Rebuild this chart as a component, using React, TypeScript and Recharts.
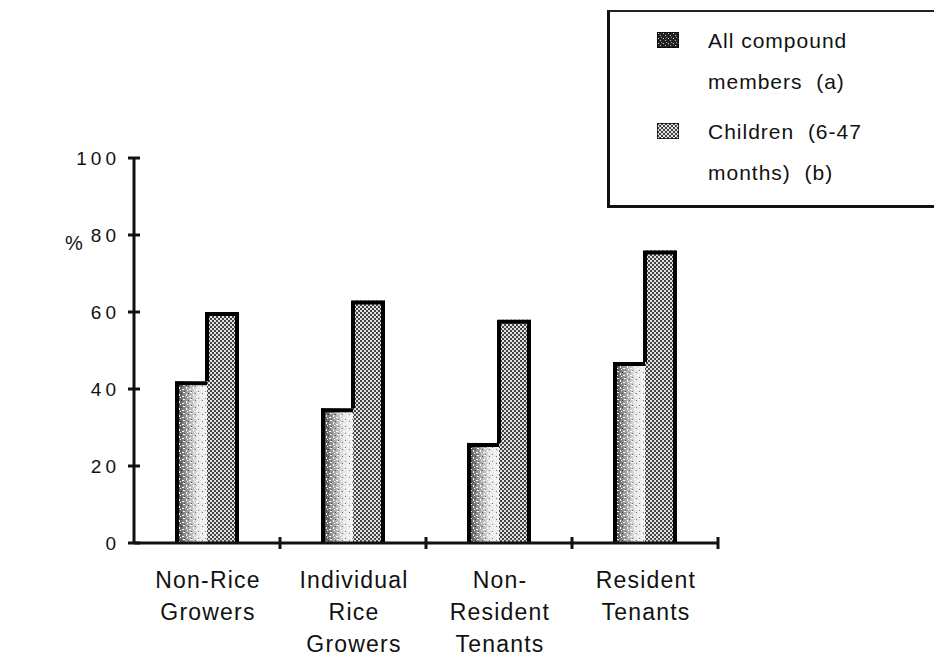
import React from "react";
import { BarChart, Bar, XAxis, YAxis, Legend, Label } from "recharts";

// category labels, one entry per line of the tick text
const categoryLines = [
  ["Non-Rice", "Growers"],
  ["Individual", "Rice", "Growers"],
  ["Non-", "Resident", "Tenants"],
  ["Resident", "Tenants"],
];

// % of each group
const allMembers = [42, 35, 26, 47];
const children = [60, 63, 58, 76];

const yTicks = [0, 20, 40, 60, 80, 100];

const legendItems = [
  { key: "a", lines: ["All compound", "members  (a)"], fill: "url(#swatchA)" },
  { key: "b", lines: ["Children  (6-47", "months)  (b)"], fill: "url(#checker)" },
];

const data = categoryLines.map((lines, i) => ({
  name: lines.join("\n"),
  a: allMembers[i],
  b: children[i],
}));

const W = 934;
const H = 656;
const margin = { top: 158, right: 216, left: 74, bottom: 13 };
const yAxisWidth = 60;
const halfBand = (W - margin.left - margin.right - yAxisWidth) / categoryLines.length / 2;

const FONT = "'Liberation Sans', Arial, Helvetica, sans-serif";
const INK = "#111";

function YTick(props: any) {
  const { x, y, payload } = props;
  return (
    <g>
      <line x1={x - 6} x2={x + 6} y1={y} y2={y} stroke={INK} strokeWidth={3} />
      <text
        x={x - 14}
        y={y}
        dy={7}
        textAnchor="end"
        fontFamily={FONT}
        fontSize={19}
        letterSpacing={4}
        fill={INK}
      >
        {payload.value}
      </text>
    </g>
  );
}

function XTick(props: any) {
  const { x, y, payload } = props;
  const lines = String(payload.value).split("\n");
  return (
    <g>
      <line x1={x + halfBand} x2={x + halfBand} y1={y - 6} y2={y + 6} stroke={INK} strokeWidth={3} />
      {lines.map((line, i) => (
        <text
          key={i}
          x={x + 1}
          y={y + 45 + i * 32}
          textAnchor="middle"
          fontFamily={FONT}
          fontSize={23}
          letterSpacing={1.2}
          fill={INK}
        >
          {line}
        </text>
      ))}
    </g>
  );
}

function BarAShape(props: any) {
  const { x, y, width, height } = props;
  if (!height) return null;
  return (
    <g>
      <rect x={x} y={y} width={width} height={height} fill="url(#fadeA)" />
      <rect x={x} y={y} width={width} height={height} fill="url(#speckle)" />
      <path
        d={`M${x + 2},${y + height} V${y + 2} H${x + width}`}
        fill="none"
        stroke="#000"
        strokeWidth={4}
      />
    </g>
  );
}

function BarBShape(props: any) {
  const { x, y, width, height, payload } = props;
  if (!height) return null;
  // top of the neighbouring "a" bar, from the same scale
  const aTop = y + height - (height * payload.a) / payload.b;
  return (
    <g>
      <rect x={x} y={y} width={width} height={height} fill="url(#checker)" />
      <path
        d={`M${x},${aTop} V${y + 2} H${x + width - 2} V${y + height}`}
        fill="none"
        stroke="#000"
        strokeWidth={4}
      />
    </g>
  );
}

function LegendBox() {
  return (
    <div
      style={{
        width: 327,
        height: 198,
        borderLeft: "3px solid #111",
        borderTop: "2px solid #222",
        borderBottom: "3px solid #111",
        borderRight: "0 none",
        boxSizing: "border-box",
        fontFamily: FONT,
        fontSize: 21,
        letterSpacing: 1,
        color: INK,
        background: "#fff",
        position: "relative",
      }}
    >
      {legendItems.map((item, i) => (
        <div
          key={item.key}
          style={{ position: "absolute", left: 47, top: 8 + i * 91, display: "flex" }}
        >
          <svg width={22} height={16} style={{ marginTop: 12, marginRight: 29, flexShrink: 0 }}>
            <rect x={0} y={0} width={22} height={16} fill={item.fill} stroke="#000" strokeWidth={1.5} />
          </svg>
          <div style={{ lineHeight: "41px", whiteSpace: "pre" }}>
            {item.lines.map((l) => (
              <div key={l}>{l}</div>
            ))}
          </div>
        </div>
      ))}
    </div>
  );
}

export default function App() {
  return (
    <div
      style={{
        position: "absolute",
        left: 0,
        top: 0,
        width: W,
        height: H,
        background: "#fff",
      }}
    >
      <BarChart width={W} height={H} data={data} margin={margin} barSize={32} barGap={0}>
        <defs>
          <linearGradient id="fadeA" x1="0" x2="1" y1="0" y2="0">
            <stop offset="0" stopColor="#2e2e2e" />
            <stop offset="0.3" stopColor="#8a8a8a" />
            <stop offset="0.7" stopColor="#e6e6e6" />
            <stop offset="1" stopColor="#f4f4f4" />
          </linearGradient>
          <pattern id="speckle" width="7" height="7" patternUnits="userSpaceOnUse">
            <rect x="1" y="0" width="2" height="1" fill="#fff" />
            <rect x="4" y="2" width="1" height="2" fill="#fff" />
            <rect x="0" y="4" width="2" height="1" fill="#fff" />
            <rect x="5" y="5" width="1" height="1" fill="#fff" />
            <rect x="2" y="6" width="1" height="1" fill="#000" opacity="0.5" />
            <rect x="6" y="1" width="1" height="1" fill="#000" opacity="0.5" />
          </pattern>
          <pattern id="checker" width="4" height="4" patternUnits="userSpaceOnUse">
            <rect width="4" height="4" fill="#e2e2e2" />
            <rect width="2" height="2" fill="#444" />
            <rect x="2" y="2" width="2" height="2" fill="#444" />
          </pattern>
          <pattern id="swatchA" width="5" height="5" patternUnits="userSpaceOnUse">
            <rect width="5" height="5" fill="#222" />
            <rect x="1" y="1" width="1" height="1" fill="#ddd" />
            <rect x="3" y="3" width="1" height="1" fill="#bbb" />
            <rect x="4" y="0" width="1" height="1" fill="#999" />
          </pattern>
        </defs>
        <XAxis
          dataKey="name"
          height={100}
          interval={0}
          tickSize={0}
          tickMargin={0}
          axisLine={{ stroke: INK, strokeWidth: 3 }}
          tickLine={false}
          tick={<XTick />}
        />
        <YAxis
          width={yAxisWidth}
          domain={[0, 100]}
          ticks={yTicks}
          interval={0}
          tickSize={0}
          tickMargin={0}
          axisLine={{ stroke: INK, strokeWidth: 3 }}
          tickLine={false}
          tick={<YTick />}
        >
          <Label
            content={(p: any) => (
              <text
                x={p.viewBox.x}
                y={p.viewBox.y + 92}
                textAnchor="middle"
                fontFamily={FONT}
                fontSize={20}
                fill={INK}
              >
                %
              </text>
            )}
          />
        </YAxis>
        <Legend
          layout="vertical"
          align="center"
          verticalAlign="middle"
          content={<LegendBox />}
          wrapperStyle={{ left: 607, top: 10, width: 327 }}
        />
        <Bar dataKey="a" name="All compound members (a)" shape={<BarAShape />} isAnimationActive={false} />
        <Bar dataKey="b" name="Children (6-47 months) (b)" shape={<BarBShape />} isAnimationActive={false} />
      </BarChart>
    </div>
  );
}
